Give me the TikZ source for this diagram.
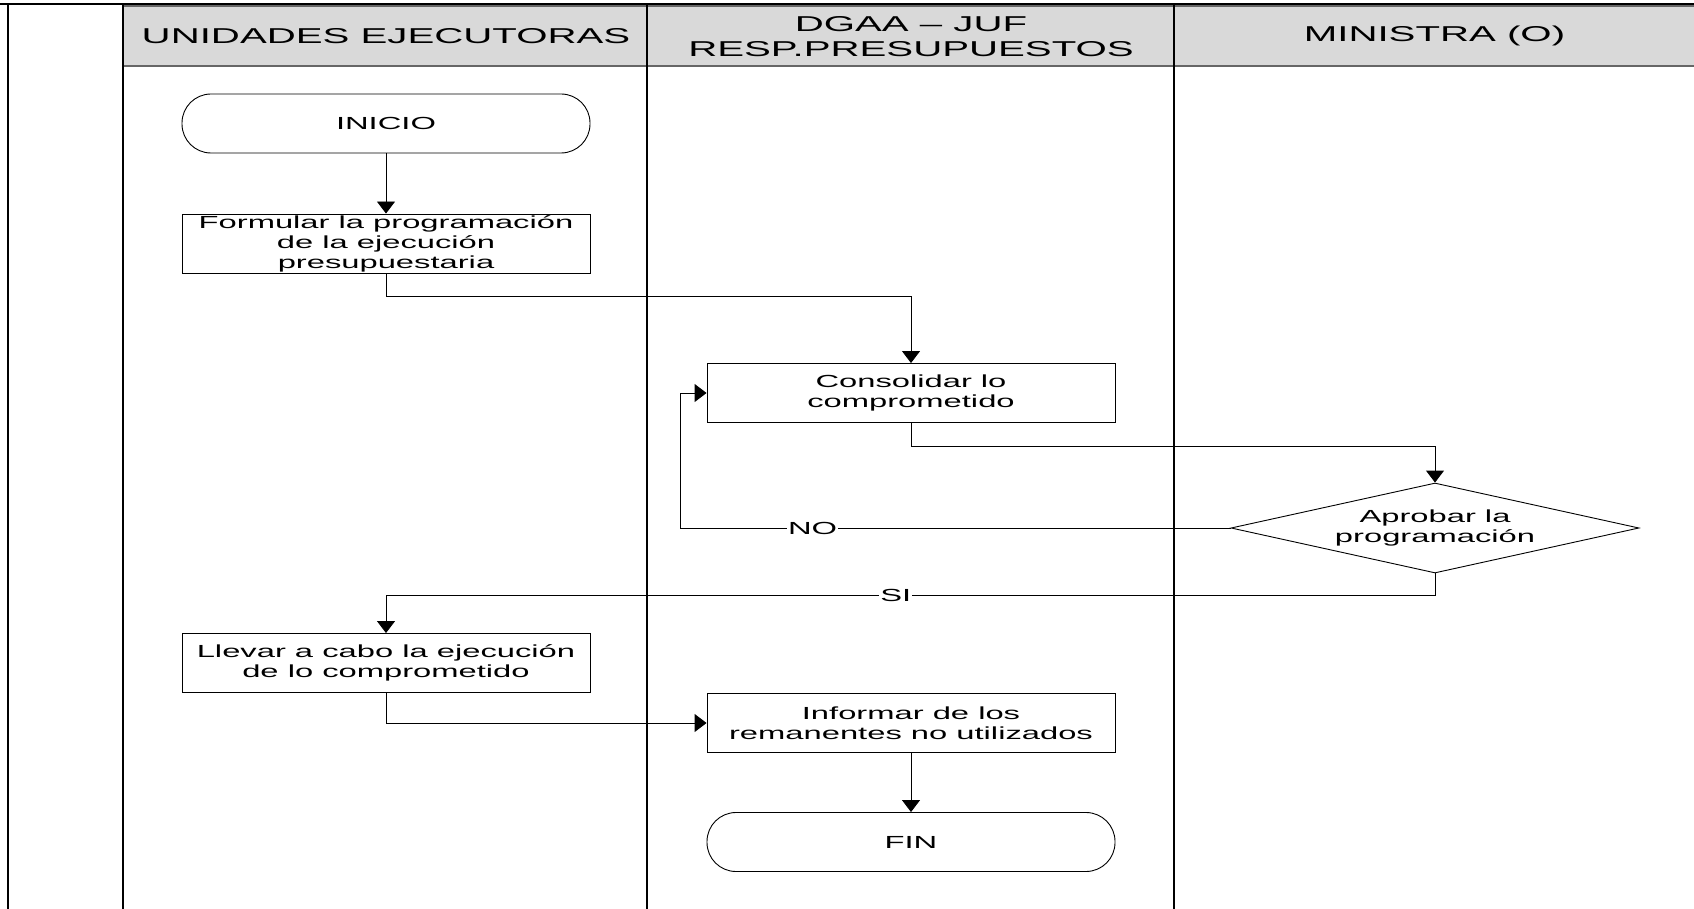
\documentclass[tikz,border=0pt]{standalone}
\usepackage{fontspec}
\setmainfont{Liberation Sans}[FakeStretch=1.87]
\usetikzlibrary{shapes.geometric,arrows.meta}
\begin{document}
\begin{tikzpicture}[x=1pt,y=-1pt,>={Triangle[width=18pt,length=12pt]},font=\fontsize{17.5}{20}\selectfont,
	proc/.style={draw,line width=0.9pt,minimum width=408pt,minimum height=59pt,inner sep=0pt,align=center},
	term/.style={proc,rounded corners=29pt},
	deci/.style={draw,diamond,aspect=4.5,line width=0.9pt,minimum width=408pt,minimum height=90pt,inner sep=0pt,align=center},
	lbl/.style={fill=white,inner sep=1pt},
	head/.style={font=\fontsize{21.5}{25}\selectfont,align=center}]
			\useasboundingbox (0,0) rectangle (1694,909);
			\draw[fill=black!15,draw=black!60,line width=1.2pt] (123,6) rectangle (1700,66);
			\draw[line width=1.3pt] (0,4)--(1694,4) (8,4)--(8,909) (123,4)--(123,909) (647,4)--(647,909) (1174,4)--(1174,909);
			\node[head] (ue) at (386,36) {UNIDADES EJECUTORAS};
			\node[head] (dg) at (911,36.5) {DGAA – JUF\\RESP.PRESUPUESTOS};
			\node[head] (mi) at (1434.5,36) {MINISTRA (O)};
			\node[term] (ini) at (386,123.5) {INICIO};
			\node[proc] (form) at (386,243.5) {Formular la programación\\de la ejecución\\presupuestaria};
			\node[proc] (cons) at (911,393) {Consolidar lo\\comprometido};
			\node[deci] (apro) at (1435,528) {Aprobar la\\programación};
			\node[proc] (llev) at (386,663) {Llevar a cabo la ejecución\\de lo comprometido};
			\node[proc] (info) at (911,723) {Informar de los\\remanentes no utilizados};
			\node[term] (fin) at (911,842) {FIN};
			\draw[->,line width=0.9pt] (ini)--(form);
			\draw[->,line width=0.9pt] (form.south)--++(0,23)-|(cons.north);
			\draw[->,line width=0.9pt] (cons.south)--++(0,23)-|(apro.north);
			\draw[->,line width=0.9pt] (apro.west)-|([xshift=-26pt]cons.west) node[lbl,pos=0.38]{NO}--(cons.west);
			\draw[->,line width=0.9pt] (apro.south)--++(0,22.4)-|(llev.north) node[lbl,pos=0.257]{SI};
			\draw[->,line width=0.9pt] (llev.south)|-(info.west);
			\draw[->,line width=0.9pt] (info)--(fin);
	\end{tikzpicture}
\end{document}
